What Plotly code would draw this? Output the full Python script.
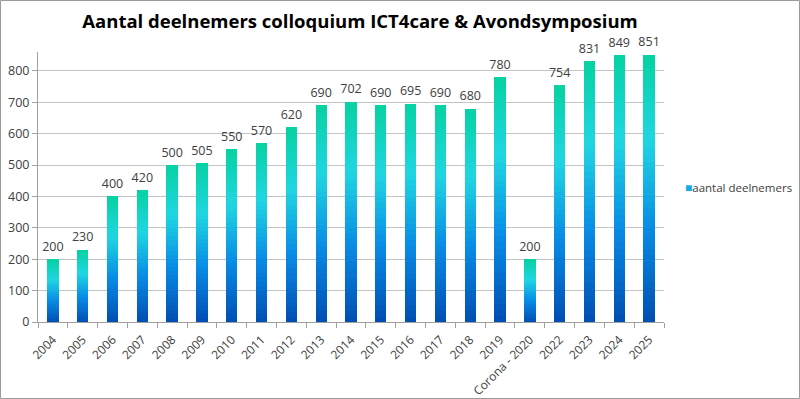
import plotly.graph_objects as go

categories = ["2004", "2005", "2006", "2007", "2008", "2009", "2010", "2011", "2012",
              "2013", "2014", "2015", "2016", "2017", "2018", "2019", "Corona - 2020",
              "2022", "2023", "2024", "2025"]
deelnemers = [200, 230, 400, 420, 500, 505, 550, 570, 620, 690, 702, 690, 695, 690,
              680, 780, 200, 754, 831, 849, 851]
series_name = "aantal deelnemers"
title_text = "Aantal deelnemers colloquium ICT4care &amp; Avondsymposium"

# vertical gradient stops (fraction of bar height from bottom, rgb)
stops = [(0.0, (0, 78, 178)), (0.35, (8, 140, 230)), (0.68, (32, 214, 226)), (1.0, (6, 210, 162))]


def grad(f):
    for (f0, c0), (f1, c1) in zip(stops[:-1], stops[1:]):
        if f <= f1:
            t = (f - f0) / (f1 - f0)
            return "rgb(%d,%d,%d)" % tuple(round(a + (b - a) * t) for a, b in zip(c0, c1))
    return "rgb(%d,%d,%d)" % stops[-1][1]


N = 40
fig = go.Figure()
for j in range(N):
    fig.add_trace(go.Bar(
        x=categories, y=[v / N for v in deelnemers],
        marker=dict(color=grad((j + 0.5) / N), line=dict(width=0)),
        showlegend=False, hoverinfo="skip"))

fig.add_trace(go.Scatter(
    x=categories, y=deelnemers, mode="markers+text", text=[str(v) for v in deelnemers],
    marker=dict(size=7, opacity=0),
    textposition="top center", textfont=dict(size=12.5, color="#404040", family="Open Sans"),
    cliponaxis=False, showlegend=False, hoverinfo="skip"))

W, H = 800, 399
ml, mr, mt, mb = 38, 136, 52, 77
pw, ph = W - ml - mr, H - mt - mb

fig.update_layout(
    width=W, height=H,
    margin=dict(l=ml, r=mr, t=mt, b=mb, autoexpand=False),
    paper_bgcolor="white", plot_bgcolor="white",
    barmode="stack", bargap=0.62, showlegend=False,
    font=dict(family="Open Sans", size=12, color="#404040"),
    title=dict(text="<b>" + title_text + "</b>", x=360 / W, xanchor="center",
               y=1 - 22 / H, yanchor="middle",
               font=dict(family="Open Sans", size=18.5, color="black")),
    annotations=[dict(xref="paper", yref="paper", x=(683 - ml) / pw, y=0.5,
                      xanchor="left", yanchor="middle", showarrow=False,
                      text="<span style='color:#18a8e4;font-size:12px'>■</span>" + series_name,
                      font=dict(size=11.5, color="#404040"))],
    xaxis=dict(type="category", range=[-0.5, len(categories) - 0.5],
               tickangle=-45, tickson="boundaries", ticks="outside",
               ticklen=5, tickcolor="#a0a0a0", showline=True, linecolor="#a0a0a0",
               ticklabelstandoff=5,
               showgrid=False, automargin=False, tickfont=dict(size=12, color="#404040")),
    yaxis=dict(range=[0, 860], dtick=100, tick0=0, showgrid=True, gridcolor="#c4c4c4",
               showline=True, linecolor="#a0a0a0", ticks="outside", ticklen=5,
               tickcolor="#a0a0a0", zeroline=False, automargin=False,
               tickfont=dict(size=12.5, color="#404040")),
    shapes=[dict(type="rect", xref="paper", yref="paper",
                 x0=(-ml + 0.5) / pw, x1=(pw + mr - 0.5) / pw,
                 y0=(-mb + 0.5) / ph, y1=(ph + mt - 0.5) / ph,
                 line=dict(color="#9a9a9a", width=1), layer="above")],
)

fig.write_html("out.html", config={"displayModeBar": False},
               post_script="document.body.style.margin='0px';")
